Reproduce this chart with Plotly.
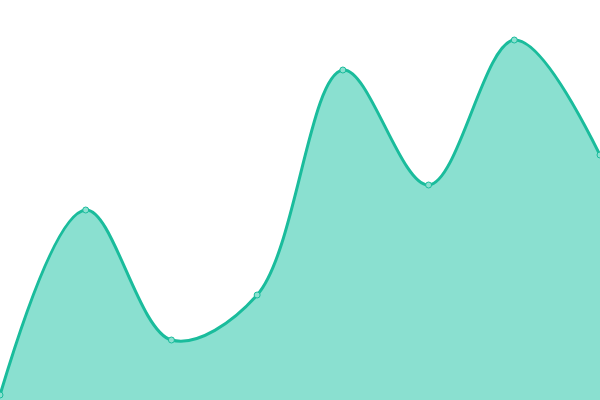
import plotly.graph_objects as go

# Point positions (x index) and values
x_idx = [0, 1, 2, 3, 4, 5, 6, 7]
values = [5, 190, 60, 105, 330, 215, 360, 245]

line_color = '#1abc9c'
fill_color = '#8ae0d0'

trace = go.Scatter(
    x=x_idx,
    y=values,
    mode='lines+markers',
    line=dict(color=line_color, width=3, shape='spline', smoothing=1),
    fill='tozeroy',
    fillcolor=fill_color,
    marker=dict(size=6, color='#8ce0d0', line=dict(color=line_color, width=1)),
    cliponaxis=False,
    hoverinfo='skip',
)

layout = go.Layout(
    width=600,
    height=400,
    margin=dict(l=0, r=0, t=0, b=0),
    paper_bgcolor='white',
    plot_bgcolor='white',
    showlegend=False,
    xaxis=dict(range=[0, 7], visible=False, fixedrange=True),
    yaxis=dict(range=[0, 400], visible=False, fixedrange=True),
)

fig = go.Figure(data=[trace], layout=layout)
# drop the browser's default body margin so the chart sits at the page corner
fig.write_html('out.html', config=dict(displayModeBar=False),
               post_script="document.body.style.margin='0';document.body.style.overflow='hidden';")
